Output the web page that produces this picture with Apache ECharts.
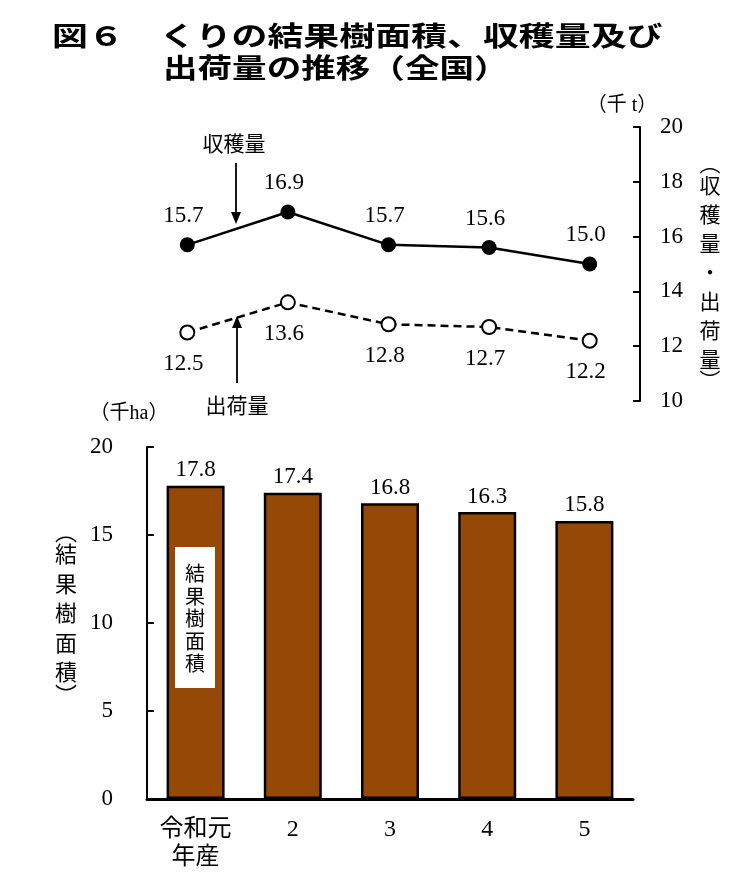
<!DOCTYPE html>
<html>
<head>
<meta charset="utf-8">
<script src="https://cdn.jsdelivr.net/npm/echarts@6/dist/echarts.min.js"></script>
<style>html,body{margin:0;padding:0;background:#fff}#c{width:739px;height:883px}</style>
</head>
<body>
<div id="c"></div>
<script>
const categories = ['令和元\n年産', '2', '3', '4', '5'];
const areaValues = [17.8, 17.4, 16.8, 16.3, 15.8];      // 結果樹面積 (千ha)
const harvestValues = [15.7, 16.9, 15.7, 15.6, 15.0];   // 収穫量 (千t)
const shipmentValues = [12.5, 13.6, 12.8, 12.7, 12.2];  // 出荷量 (千t)

const SERIF = "'Liberation Serif','Noto Sans CJK JP'";
const CJK = "'Noto Sans CJK JP'";
const fmt = p => p.value.toFixed(1);
const vert = s => s.split('').join('\n');

const chart = echarts.init(document.getElementById('c'), null, {renderer: 'canvas'});
chart.setOption({
  backgroundColor: '#fff',
  animation: false,
  grid: [
    {left: 137, right: 99, top: 127, bottom: 482},
    {left: 147, right: 106, top: 447, bottom: 84}
  ],
  xAxis: [
    {gridIndex: 0, type: 'category', data: categories, boundaryGap: true, show: false},
    {gridIndex: 1, type: 'category', data: categories, boundaryGap: true,
     axisLine: {lineStyle: {color: '#000', width: 3}},
     axisTick: {show: false},
     axisLabel: {color: '#000', fontFamily: SERIF, fontSize: 24, lineHeight: 28, margin: 17}}
  ],
  yAxis: [
    {gridIndex: 0, type: 'value', position: 'right', min: 10, max: 20, interval: 2,
     name: '（千 t）', nameLocation: 'end', nameGap: 9,
     nameTextStyle: {color: '#000', fontFamily: SERIF, fontSize: 20, padding: [0, 36, 0, 0]},
     axisLine: {show: true, lineStyle: {color: '#000', width: 2}},
     axisTick: {show: true, inside: true, length: 7, lineStyle: {color: '#000', width: 2}},
     axisLabel: {color: '#000', fontFamily: SERIF, fontSize: 23, margin: 20},
     splitLine: {show: false}},
    {gridIndex: 1, type: 'value', min: 0, max: 20, interval: 5,
     name: '（千ha）', nameLocation: 'end', nameGap: 23,
     nameTextStyle: {color: '#000', fontFamily: SERIF, fontSize: 20, padding: [0, 36, 0, 0]},
     axisLine: {show: true, lineStyle: {color: '#000', width: 2}},
     axisTick: {show: true, inside: true, length: 7, lineStyle: {color: '#000', width: 2}},
     axisLabel: {color: '#000', fontFamily: SERIF, fontSize: 23, margin: 34},
     splitLine: {show: false}}
  ],
  series: [
    {name: '収穫量', type: 'line', xAxisIndex: 0, yAxisIndex: 0, data: harvestValues,
     symbol: 'circle', symbolSize: 15,
     lineStyle: {color: '#000', width: 2.5},
     itemStyle: {color: '#000'},
     label: {show: true, position: 'top', distance: 10, offset: [-4, 0], formatter: fmt,
             color: '#000', fontFamily: SERIF, fontSize: 23}},
    {name: '出荷量', type: 'line', xAxisIndex: 0, yAxisIndex: 0, data: shipmentValues,
     symbol: 'circle', symbolSize: 14,
     lineStyle: {color: '#000', width: 2.5, type: [8, 5]},
     itemStyle: {color: '#fff', borderColor: '#000', borderWidth: 2},
     label: {show: true, position: 'bottom', distance: 12, offset: [-4, 0], formatter: fmt,
             color: '#000', fontFamily: SERIF, fontSize: 23}},
    {name: '結果樹面積', type: 'bar', xAxisIndex: 1, yAxisIndex: 1, data: areaValues,
     barWidth: 58,
     itemStyle: {color: '#964806', borderColor: '#000', borderWidth: 2.5},
     label: {show: true, position: 'top', distance: 4, formatter: fmt,
             color: '#000', fontFamily: SERIF, fontSize: 23}}
  ],
  graphic: [
    {type: 'text', left: 52, top: 22, scaleX: 1.33,
     style: {text: '図６　くりの結果樹面積、収穫量及び', fontFamily: CJK, fontWeight: 'bold', fontSize: 27, fill: '#000'}},
    {type: 'text', left: 163, top: 54, scaleX: 1.28,
     style: {text: '出荷量の推移（全国）', fontFamily: CJK, fontWeight: 'bold', fontSize: 27, fill: '#000'}},
    // right vertical axis title
    {type: 'text', x: 710, y: 272,
     style: {text: '{p|︵}\n' + vert('収穫量・出荷量') + '\n{p|︶}', fontFamily: CJK, fontSize: 21, lineHeight: 29,
             fill: '#000', align: 'center', verticalAlign: 'middle',
             rich: {p: {fontSize: 21, lineHeight: 14, fontFamily: CJK}}}},
    // left vertical axis title
    {type: 'text', x: 66, y: 613,
     style: {text: '{p|︵}\n' + vert('結果樹面積') + '\n{p|︶}', fontFamily: CJK, fontSize: 22, lineHeight: 29.5,
             fill: '#000', align: 'center', verticalAlign: 'middle',
             rich: {p: {fontSize: 22, lineHeight: 16, fontFamily: CJK}}}},
    // white box inside first bar
    {type: 'rect', shape: {x: 175, y: 547, width: 40, height: 141}, style: {fill: '#fff'}, z: 100},
    {type: 'text', x: 195, y: 618.5, z: 101,
     style: {text: vert('結果樹面積'), fontFamily: CJK, fontSize: 20, lineHeight: 22.5,
             fill: '#000', align: 'center', verticalAlign: 'middle'}},
    // 収穫量 annotation
    {type: 'text', x: 234, y: 143,
     style: {text: '収穫量', fontFamily: CJK, fontSize: 21, fill: '#000', align: 'center', verticalAlign: 'middle'}},
    {type: 'line', shape: {x1: 236, y1: 163, x2: 236, y2: 214}, style: {stroke: '#000', lineWidth: 1.8}},
    {type: 'polygon', shape: {points: [[231, 212], [241, 212], [236, 224]]}, style: {fill: '#000'}},
    // 出荷量 annotation
    {type: 'text', x: 237, y: 405,
     style: {text: '出荷量', fontFamily: CJK, fontSize: 21, fill: '#000', align: 'center', verticalAlign: 'middle'}},
    {type: 'line', shape: {x1: 237, y1: 383, x2: 237, y2: 326}, style: {stroke: '#000', lineWidth: 1.8}},
    {type: 'polygon', shape: {points: [[232, 328], [242, 328], [237, 316]]}, style: {fill: '#000'}}
  ]
});
</script>
</body>
</html>
